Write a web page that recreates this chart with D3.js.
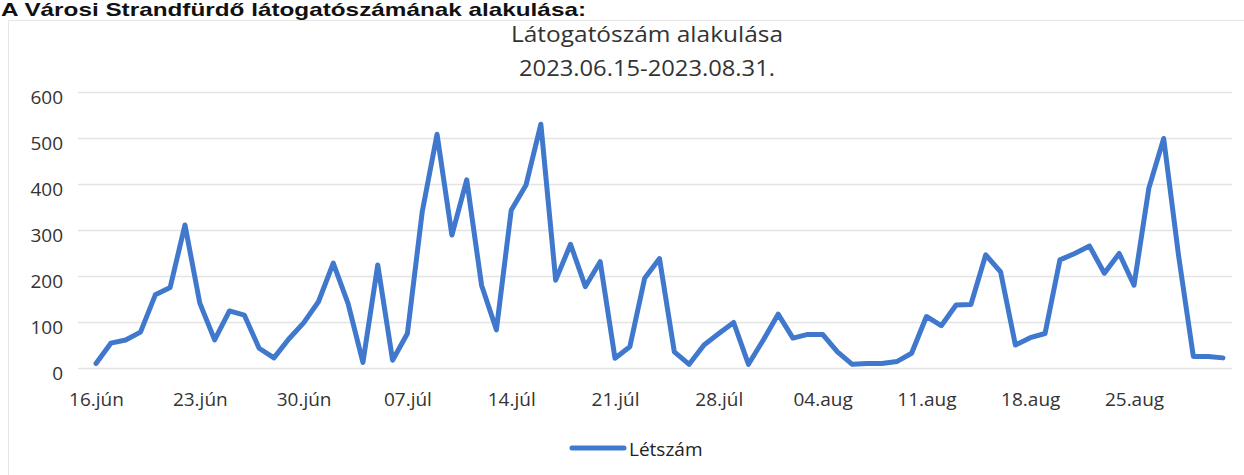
<!DOCTYPE html>
<html><head><meta charset="utf-8">
<script src="https://cdn.jsdelivr.net/npm/d3@7"></script>
<style>
html,body{margin:0;padding:0;background:#fff;}
svg{display:block;}
</style></head>
<body>
<svg id="c" width="1244" height="475"></svg>
<script>
const heading = "A Városi Strandfürdő látogatószámának alakulása:";
const titleLine1 = "Látogatószám alakulása";
const titleLine2 = "2023.06.15-2023.08.31.";
const seriesName = "Létszám";
const startDate = "2023-06-16";
const values = [10,54,61,78,159,175,311,141,61,124,115,43,22,
  63,98,144,228,140,12,224,17,75,340,508,289,409,
  180,83,343,398,530,191,269,177,231,21,46,195,238,
  35,8,50,75,99,8,61,117,65,73,73,35,
  8,10,10,14,32,112,92,137,138,246,209,50,66,
  75,235,249,265,206,249,180,391,499,245,25,25,22];
const yTicks = [0,100,200,300,400,500,600];
const monthNames = ["jan","feb","már","ápr","máj","jún","júl","aug","szept","okt","nov","dec"];

const svg = d3.select("#c");
const parse = d3.timeParse("%Y-%m-%d");
const d0 = parse(startDate);
const data = values.map((v,i)=>({date:d3.timeDay.offset(d0,i), v}));

const x = d3.scaleTime().domain([data[0].date, data[data.length-1].date]).range([96,1223]);
const y = d3.scaleLinear().domain([0,600]).range([368,92]);

// frame
svg.append("rect").attr("x",8.5).attr("y",20.5).attr("width",1240).attr("height",470)
  .attr("fill","none").attr("stroke","#e6e6e6");

// heading (at top edge)
svg.append("text").attr("x",1).attr("y",16).attr("font-family","Liberation Sans, Arial, sans-serif")
  .attr("font-weight","bold").attr("font-size",19).attr("fill","#111")
  .attr("textLength",585).attr("lengthAdjust","spacingAndGlyphs").text(heading);

// titles
svg.append("text").attr("x",647).attr("y",42).attr("text-anchor","middle")
  .attr("font-family","Open Sans, sans-serif").attr("font-size",21).attr("fill","#333")
  .attr("textLength",272).attr("lengthAdjust","spacingAndGlyphs").text(titleLine1);
svg.append("text").attr("x",647).attr("y",76).attr("text-anchor","middle")
  .attr("font-family","Open Sans, sans-serif").attr("font-size",21).attr("fill","#333")
  .attr("textLength",256).attr("lengthAdjust","spacingAndGlyphs").text(titleLine2);

// gridlines
svg.append("g").selectAll("line").data(yTicks).join("line")
  .attr("x1",78).attr("x2",1232).attr("y1",d=>y(d)+0.5).attr("y2",d=>y(d)+0.5)
  .attr("stroke","#e4e4e4").attr("stroke-width",1.5);

// y axis labels
const yAxis = d3.axisLeft(y).tickValues(yTicks).tickSize(0).tickPadding(0);
const gy = svg.append("g").attr("transform","translate(63,5)").call(yAxis);
gy.select(".domain").remove();
gy.selectAll("text").attr("font-family","Open Sans, sans-serif").attr("font-size",19).attr("fill","#333");

// x axis labels
const xTickDates = d3.range(0,values.length,7).map(i=>data[i].date);
const fmt = d => d3.timeFormat("%d")(d)+"."+monthNames[d.getMonth()];
const xAxis = d3.axisBottom(x).tickValues(xTickDates).tickFormat(fmt).tickSize(0).tickPadding(0);
const gx = svg.append("g").attr("transform","translate(0,392)").call(xAxis);
gx.select(".domain").remove();
gx.selectAll("text").attr("font-family","Open Sans, sans-serif").attr("font-size",19).attr("fill","#333");

// line
const line = d3.line().x(d=>x(d.date)).y(d=>y(d.v));
svg.append("path").datum(data).attr("d",line).attr("fill","none")
  .attr("stroke","#3f78cc").attr("stroke-width",5).attr("stroke-linejoin","round").attr("stroke-linecap","round");

// legend
svg.append("line").attr("x1",572).attr("x2",624).attr("y1",448).attr("y2",448)
  .attr("stroke","#3f78cc").attr("stroke-width",5).attr("stroke-linecap","round");
svg.append("text").attr("x",629).attr("y",456).attr("font-family","Open Sans, sans-serif")
  .attr("font-size",19).attr("fill","#222").text(seriesName);
</script>
</body></html>
